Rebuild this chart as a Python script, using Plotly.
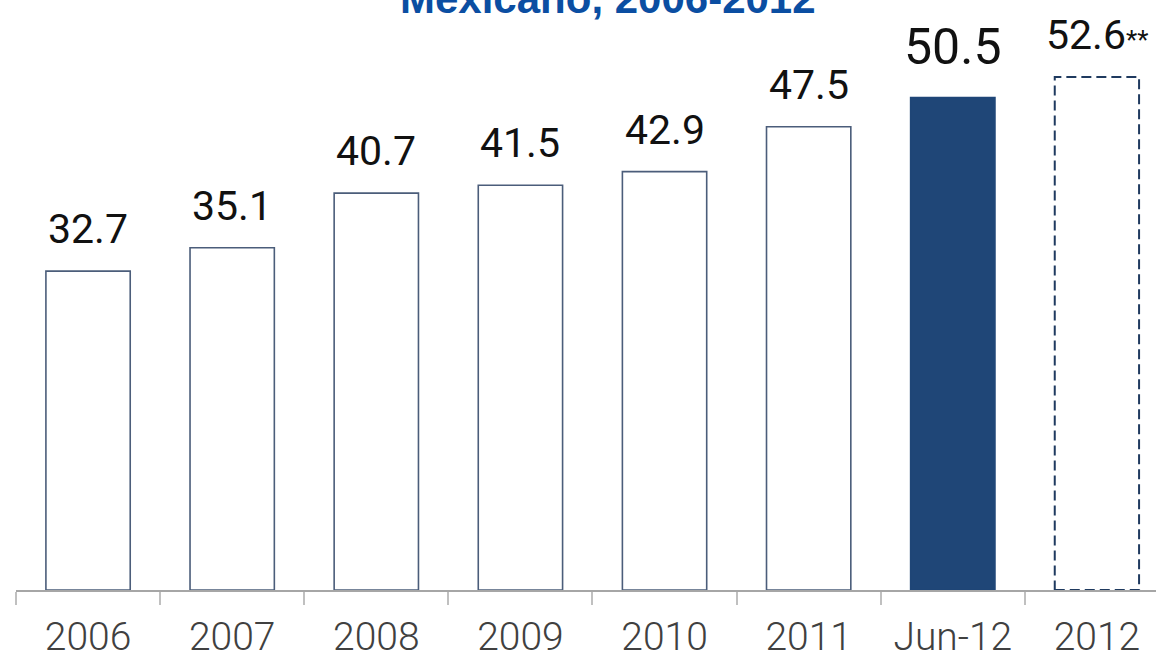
import plotly.graph_objects as go

# Series values
categories = ["2006", "2007", "2008", "2009", "2010", "2011", "Jun-12", "2012"]
values = [32.7, 35.1, 40.7, 41.5, 42.9, 47.5, 50.5, 52.6]
value_labels = ["32.7", "35.1", "40.7", "41.5", "42.9", "47.5", "50.5",
                "52.6<span style='font-size:26px'>**</span>"]
title_text = "Mexicano, 2006-2012"

BAR_W = 0.585
OUTLINE = "#4b5d7a"
NAVY = "#1f4677"
DASH_NAVY = "#1f3a5f"
LABEL_FONT = "Roboto, Liberation Sans, sans-serif"

fills = ["white"] * 6 + [NAVY, "white"]
line_widths = [1.6] * 7 + [0]
line_colors = [OUTLINE] * 6 + [NAVY, "white"]

fig = go.Figure()
fig.add_trace(go.Bar(
    x=categories,
    y=values,
    width=BAR_W,
    marker=dict(color=fills, line=dict(color=line_colors, width=line_widths)),
    hoverinfo="skip",
))

# Projected year: dashed outline around its bar
i_proj = categories.index("2012")
fig.add_shape(
    type="rect", xref="x", yref="y",
    x0=i_proj - BAR_W / 2, x1=i_proj + BAR_W / 2,
    y0=0, y1=values[i_proj],
    line=dict(color=DASH_NAVY, width=2, dash="10px,5px"),
    fillcolor="rgba(0,0,0,0)",
    layer="above",
)

# Value labels above the bars (x given as category index)
for i, (cat, v, lab) in enumerate(zip(categories, values, value_labels)):
    big = cat == "Jun-12"
    fig.add_annotation(
        x=i, y=v, xref="x", yref="y",
        text=lab, showarrow=False,
        yanchor="bottom", xanchor="center",
        yshift=(20 if big else 16),
        font=dict(family=LABEL_FONT, size=(50 if big else 41), color="#111111"),
    )

# Title, partly running off the top edge
fig.add_annotation(
    x=0.519, y=1, xref="paper", yref="paper",
    text="<b>" + title_text + "</b>", showarrow=False,
    xanchor="center", yanchor="bottom", yshift=-24,
    font=dict(family="Liberation Sans, Arial, sans-serif", size=42, color="#0b4ea2"),
)

fig.update_layout(
    width=1156, height=658,
    margin=dict(l=16, r=0, t=0, b=68),
    paper_bgcolor="white", plot_bgcolor="white",
    showlegend=False,
    xaxis=dict(
        type="category",
        range=[-0.5, 7.41],
        automargin=False,
        tickangle=0,
        tickson="boundaries",
        ticks="outside", ticklen=13, tickwidth=2, tickcolor="#c0c0c0",
        showline=True, linecolor="#a6a6a6", linewidth=2,
        showgrid=False,
        ticklabelstandoff=11,
        tickfont=dict(family=LABEL_FONT, size=39, weight=300, color="#404040"),
    ),
    yaxis=dict(range=[0, 60.5], visible=False, showgrid=False, zeroline=False,
               automargin=False),
)

fig.write_html("out.html")
